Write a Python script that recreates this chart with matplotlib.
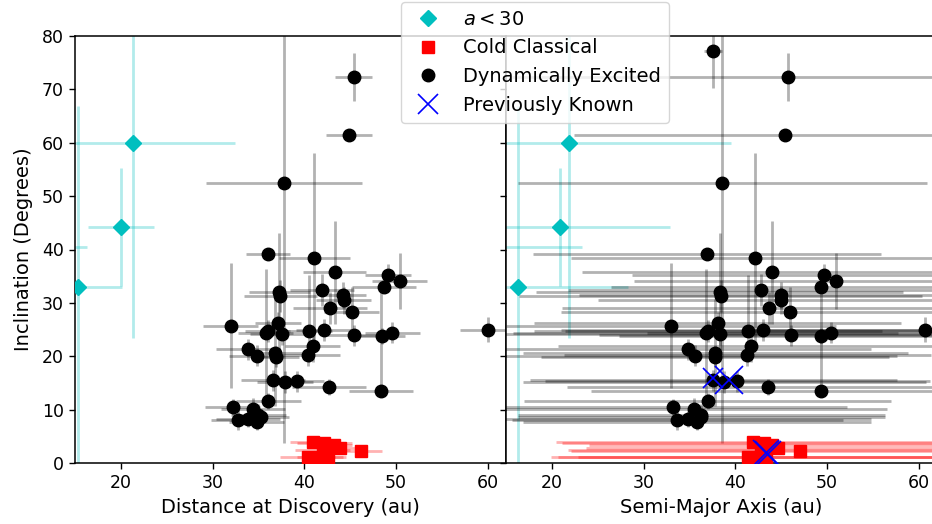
import matplotlib
matplotlib.use("Agg")
import matplotlib.pyplot as plt
from matplotlib.lines import Line2D
import numpy as np

# ---------------- data ----------------
# a < 30 objects
c_dist = [21.3, 20.0, 15.3, 10.0]
c_dist_err = [11.1, 3.6, 4.8, 6.3]
c_a = [21.9, 20.9, 16.3, 12.0]
c_a_err = [17.6, 12.0, 12.0, 11.3]
c_inc = [59.9, 44.2, 32.9, 40.5]
c_inc_err = [36.4, 11.1, 33.9, 3.0]

# Cold classical
cc_dist = [41.0, 42.2, 43.2, 43.9, 40.4, 41.7, 42.6, 46.2, 42.0]
cc_dist_err = [2.5, 3.0, 2.0, 2.5, 3.0, 2.5, 2.0, 2.3, 3.0]
cc_a = [41.9, 43.1, 44.0, 44.7, 41.4, 42.7, 43.3, 47.1, 42.8]
cc_a_err = [21.5, 22.0, 20.0, 21.0, 21.5, 22.0, 20.5, 25.0, 21.0]
cc_inc = [3.9, 3.7, 3.4, 2.8, 1.2, 1.2, 1.2, 2.2, 2.5]
cc_inc_err = [1.0, 0.8, 0.7, 0.6, 0.5, 0.5, 0.6, 0.8, 0.7]

# Dynamically excited
de_dist = [70.0, 45.4, 44.9, 37.8, 41.1, 36.0, 43.3, 41.9, 44.2, 44.3,
           42.8, 45.2, 37.3, 37.4, 32.0, 37.1, 35.8, 36.0, 37.6, 40.5,
           42.1, 45.4, 48.5, 49.6, 60.0, 33.9, 34.8, 36.8, 36.9, 40.9,
           40.4, 49.1, 50.4, 48.7, 36.6, 37.9, 39.2, 42.7, 48.4, 36.1,
           32.2, 34.4, 35.0, 32.8, 33.9, 34.8, 35.3]
de_dist_err = [2.0, 2.0, 2.5, 8.5, 3.9, 2.4, 3.4, 3.5, 2.5, 3.0,
               4.0, 3.0, 3.3, 4.0, 3.0, 2.5, 3.0, 2.5, 3.5, 2.5,
               3.0, 3.0, 2.5, 3.0, 3.0, 3.5, 3.0, 3.0, 2.5, 3.0,
               3.5, 2.5, 3.0, 3.5, 3.5, 3.0, 3.0, 4.0, 3.5, 3.5,
               3.0, 3.5, 3.0, 3.0, 3.5, 3.0, 3.0]
de_a = [37.6, 45.7, 45.4, 38.6, 42.1, 36.9, 44.0, 42.8, 45.0, 45.0,
        43.7, 46.0, 38.3, 38.4, 33.0, 38.1, 36.8, 37.0, 38.3, 41.4,
        43.0, 46.1, 49.3, 50.4, 60.7, 34.8, 35.6, 37.8, 37.8, 41.7,
        41.3, 49.7, 51.0, 49.4, 37.6, 38.8, 40.2, 43.6, 49.3, 37.0,
        33.2, 35.5, 36.3, 33.7, 34.8, 35.8, 36.3]
de_a_err = [1.0, 30.0, 23.0, 22.3, 20.0, 19.0, 20.7, 21.0, 22.0, 20.0,
            22.6, 25.0, 20.0, 22.0, 18.0, 20.0, 21.0, 19.0, 24.0, 20.0,
            22.0, 21.0, 22.0, 20.0, 20.0, 20.0, 22.0, 21.0, 19.0, 21.0,
            20.0, 21.0, 22.0, 23.0, 20.0, 22.0, 21.0, 22.0, 25.0, 20.0,
            19.0, 21.0, 20.0, 18.0, 20.0, 19.0, 20.0]
de_inc = [77.2, 72.4, 61.5, 52.5, 38.5, 39.1, 35.7, 32.5, 31.5, 30.5,
          29.0, 28.3, 32.1, 31.2, 25.7, 26.3, 24.4, 24.7, 24.1, 24.8,
          24.9, 23.9, 23.8, 24.4, 25.0, 21.3, 20.1, 20.7, 19.9, 22.0,
          20.2, 35.2, 34.1, 33.0, 15.5, 15.2, 15.3, 14.3, 13.5, 11.7,
          10.4, 10.1, 9.0, 8.1, 8.2, 7.7, 8.7]
de_inc_lo = [7.0, 4.5, 0.5, 48.8, 17.0, 1.0, 9.7, 3.0, 2.5, 2.5,
             3.0, 4.7, 11.0, 3.0, 11.7, 2.0, 12.0, 2.0, 2.0, 5.8,
             2.0, 2.0, 1.5, 2.0, 2.3, 2.0, 2.0, 10.0, 2.0, 3.0,
             2.0, 2.0, 5.3, 0.0, 2.0, 2.0, 2.0, 1.5, 0.0, 1.5,
             1.5, 2.0, 2.0, 2.0, 1.5, 1.5, 1.5]
de_inc_hi = [7.0, 4.5, 0.5, 48.8, 19.5, 1.0, 9.6, 3.0, 2.5, 2.5,
             3.0, 4.7, 11.0, 3.0, 11.7, 2.0, 12.0, 2.0, 2.0, 10.4,
             2.0, 2.0, 1.5, 2.0, 2.3, 2.0, 2.0, 10.0, 2.0, 3.0,
             2.0, 2.0, 5.3, 0.0, 2.0, 2.0, 2.0, 1.5, 19.5, 1.5,
             1.5, 2.0, 2.0, 2.0, 1.5, 1.5, 1.5]

# Previously known (semi-major axis panel only)
pk_a = [37.6, 39.3, 43.4, 43.6]
pk_inc = [16.0, 15.5, 1.8, 1.6]
pk_ms = [14, 20, 19, 19]

x_ticks = [20, 30, 40, 50, 60]
y_ticks = [0, 10, 20, 30, 40, 50, 60, 70, 80]

# ---------------- plot ----------------
W, H = 932, 524
fig = plt.figure(figsize=(W / 100, H / 100), dpi=100)
plt.rcParams['font.family'] = ['DejaVu Sans']

bottom = 61 / H
height = 427 / H
axw = 431 / W
axL = fig.add_axes([75 / W, bottom, axw, height])
axR = fig.add_axes([506 / W, bottom, axw, height], sharey=axL)

ebkw = dict(fmt='none', elinewidth=2.0, capsize=0)
ms = 9


def draw(ax, xs_c, xe_c, xs_cc, xe_cc, xs_de, xe_de):
    ax.errorbar(xs_c, c_inc, xerr=xe_c, yerr=c_inc_err, ecolor='c', alpha=0.3, **ebkw)
    ax.errorbar(xs_de, de_inc, xerr=xe_de, yerr=[de_inc_lo, de_inc_hi],
                ecolor='k', alpha=0.3, **ebkw)
    ax.errorbar(xs_cc, cc_inc, xerr=xe_cc, yerr=cc_inc_err, ecolor='r', alpha=0.3, **ebkw)
    ax.plot(xs_c, c_inc, 'D', color='c', ms=ms * 0.95, ls='none', zorder=3)
    ax.plot(xs_de, de_inc, 'o', color='k', ms=ms, ls='none', zorder=3)
    ax.plot(xs_cc, cc_inc, 's', color='r', ms=ms, ls='none', zorder=3)


draw(axL, c_dist, c_dist_err, cc_dist, cc_dist_err, de_dist, de_dist_err)
draw(axR, c_a, c_a_err, cc_a, cc_a_err, de_a, de_a_err)
for a, i, m in zip(pk_a, pk_inc, pk_ms):
    axR.plot([a], [i], 'x', color='b', ms=m, mew=1.2, zorder=4)

for ax in (axL, axR):
    ax.set_xlim(15, 62)
    ax.set_xticks(x_ticks)
    ax.tick_params(labelsize=12.5, length=4.5, width=1.0)
    for s in ax.spines.values():
        s.set_linewidth(1.1)
axL.set_ylim(0, 80)
axL.set_yticks(y_ticks)
axR.tick_params(labelleft=False)

axL.set_xlabel('Distance at Discovery (au)', fontsize=14)
axR.set_xlabel('Semi-Major Axis (au)', fontsize=14)
axL.set_ylabel('Inclination (Degrees)', fontsize=14, labelpad=6)

handles = [
    Line2D([], [], marker='D', color='c', ls='none', ms=ms * 0.95),
    Line2D([], [], marker='s', color='r', ls='none', ms=ms),
    Line2D([], [], marker='o', color='k', ls='none', ms=ms),
    Line2D([], [], marker='x', color='b', ls='none', ms=14, mew=1.2),
]
labels = ['$a < 30$', 'Cold Classical', 'Dynamically Excited', 'Previously Known']
fig.legend(handles, labels, loc='upper center', bbox_to_anchor=(535 / W, 1 - 2 / H),
           fontsize=14, borderaxespad=0, handletextpad=0.8, labelspacing=0.5)

fig.savefig('out.png', dpi=100)
